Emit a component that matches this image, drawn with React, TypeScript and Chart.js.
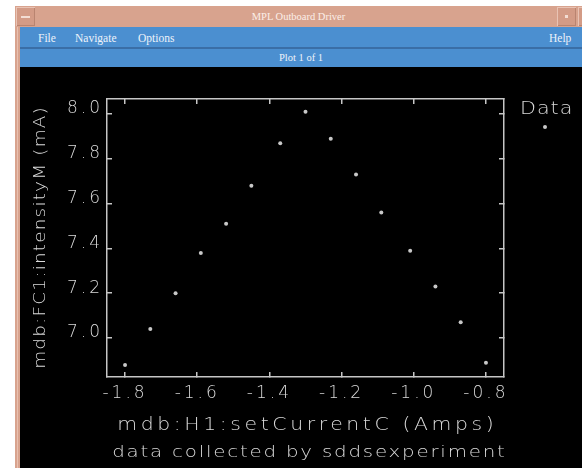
import { useEffect, useRef } from 'react';
import { Chart, registerables } from 'chart.js';

Chart.register(...registerables);

// Scan of H1 corrector current against FC1 beam intensity
const currentAmps = [-1.8, -1.73, -1.66, -1.59, -1.52, -1.45, -1.37, -1.3, -1.23, -1.16, -1.09, -1.01, -0.94, -0.87, -0.8];
const intensityMA = [6.88, 7.04, 7.2, 7.38, 7.51, 7.68, 7.87, 8.01, 7.89, 7.73, 7.56, 7.39, 7.23, 7.07, 6.89];

const xLimits = [-1.85, -0.75];
const yLimits = [6.826, 8.067];
const xStep = 0.2;
const yStep = 0.2;

const seriesName = 'Data';
const xTitle = 'mdb:H1:setCurrentC (Amps)';
const yTitle = 'mdb:FC1:intensityM (mA)';
const footnote = 'data collected by sddsexperiment';
const windowTitle = 'MPL Outboard Driver';
const menuLeft = ['File', 'Navigate', 'Options'];
const menuRight = 'Help';
const plotCaption = 'Plot 1 of 1';

const FG = '#dadada';
const LINE = '#c6c6c6';
const POINT = '#c8c8c8';
const FONT = '"DejaVu Sans", sans-serif';

const CANVAS_W = 562;
const CANVAS_H = 401;

// Stroke-font look: wide glyphs (horizontal stretch) with open letter spacing
function spacedText(
  ctx: CanvasRenderingContext2D,
  text: string,
  x: number,
  y: number,
  size: number,
  spacing: number,
  stretch: number,
  align: CanvasTextAlign = 'center'
) {
  ctx.save();
  ctx.font = `200 ${size}px ${FONT}`;
  (ctx as any).letterSpacing = `${spacing / stretch}px`;
  ctx.textAlign = align;
  ctx.textBaseline = 'alphabetic';
  const shift = align === 'center' ? spacing / 2 : 0;
  ctx.translate(x + shift, y);
  ctx.scale(stretch, 1);
  ctx.fillText(text, 0, 0);
  ctx.restore();
}

const captions = {
  id: 'captions',
  beforeLayout(chart: Chart) {
    (chart.ctx as any).letterSpacing = '3px';
  },
  beforeDraw(chart: Chart) {
    (chart.ctx as any).letterSpacing = '3px';
  },
  afterDraw(chart: Chart) {
    const { ctx, chartArea: a } = chart;
    const cx = (a.left + a.right) / 2;
    ctx.save();
    ctx.fillStyle = FG;
    spacedText(ctx, xTitle, cx, a.bottom + 53, 17, 3.6, 1.2);
    spacedText(ctx, footnote, cx + 3, a.bottom + 80, 16.5, 1.8, 1.2);

    ctx.save();
    ctx.translate(25, (a.top + a.bottom) / 2);
    ctx.rotate(-Math.PI / 2);
    spacedText(ctx, yTitle, 0, 0, 16, 1.2, 1.15);
    ctx.restore();

    // legend: name with its marker underneath
    spacedText(ctx, seriesName, a.right + 16, a.top + 15, 18, 1, 1.15, 'left');
    const ds = chart.data.datasets[0] as any;
    ctx.fillStyle = ds.pointBackgroundColor;
    ctx.beginPath();
    ctx.arc(a.right + 41, a.top + 28, ds.pointRadius, 0, Math.PI * 2);
    ctx.fill();
    ctx.restore();
  },
};

const grid = {
  drawOnChartArea: false,
  drawTicks: true,
  tickLength: -5,
  color: LINE,
  lineWidth: 1.5,
};
const border = { display: true, color: LINE, width: 1.5 };
const tickFont = { family: FONT, size: 17, weight: '200' as any };

function PlotCanvas() {
  const ref = useRef<HTMLCanvasElement | null>(null);

  useEffect(() => {
    if (!ref.current) return;
    const chart = new Chart(ref.current, {
      type: 'scatter',
      data: {
        datasets: [
          {
            label: seriesName,
            data: currentAmps.map((x, i) => ({ x, y: intensityMA[i] })),
            pointRadius: 2,
            pointBackgroundColor: POINT,
            pointBorderWidth: 0,
            showLine: false,
          },
        ],
      },
      options: {
        animation: false,
        responsive: false,
        devicePixelRatio: 1,
        layout: { padding: 0 },
        plugins: {
          legend: { display: false },
          tooltip: { enabled: false },
          title: { display: false },
        },
        scales: {
          x: {
            type: 'linear',
            position: 'bottom',
            min: xLimits[0],
            max: xLimits[1],
            afterFit: (s: any) => {
              s.height = 91;
            },
            ticks: {
              stepSize: xStep,
              includeBounds: false,
              autoSkip: false,
              maxRotation: 0,
              minRotation: 0,
              padding: 11,
              color: FG,
              font: tickFont,
              callback: (v: any) => Number(v).toFixed(1),
            },
            grid,
            border,
          },
          x2: {
            type: 'linear',
            position: 'top',
            min: xLimits[0],
            max: xLimits[1],
            afterFit: (s: any) => {
              s.height = 32;
            },
            ticks: { display: false, stepSize: xStep, includeBounds: false },
            grid,
            border,
          },
          y: {
            type: 'linear',
            position: 'left',
            min: yLimits[0],
            max: yLimits[1],
            afterFit: (s: any) => {
              s.width = 87;
            },
            ticks: {
              stepSize: yStep,
              includeBounds: false,
              padding: 9,
              labelOffset: -5,
              color: FG,
              font: tickFont,
              callback: (v: any) => Number(v).toFixed(1),
            },
            grid,
            border,
          },
          y2: {
            type: 'linear',
            position: 'right',
            min: yLimits[0],
            max: yLimits[1],
            afterFit: (s: any) => {
              s.width = 78;
            },
            ticks: { display: false, stepSize: yStep, includeBounds: false },
            grid,
            border,
          },
        },
      },
      plugins: [captions],
    });
    return () => chart.destroy();
  }, []);

  return <canvas ref={ref} width={CANVAS_W} height={CANVAS_H} style={{ display: 'block' }} />;
}

const serif = '"Liberation Serif", "DejaVu Serif", serif';

export default function App() {
  const abs = (s: React.CSSProperties): React.CSSProperties => ({ position: 'absolute', ...s });
  const button = { background: '#d39b86', boxShadow: 'inset 1px 1px 0 #e9c3b4, inset -1px -1px 0 #b98470' };
  // font shorthand first, so the explicit line height is not reset by it
  const label = (size: number, lh: number, color: string): React.CSSProperties => ({
    font: `${size}px ${serif}`,
    lineHeight: `${lh}px`,
    color,
    whiteSpace: 'nowrap',
  });
  return (
    <div style={{ position: 'fixed', left: 0, top: 0, width: 582, height: 468, background: '#ffffff', overflow: 'hidden' }}>
      {/* window frame */}
      <div style={abs({ left: 15, top: 6, width: 567, height: 462, background: '#d8a38e' })} />
      <div style={abs({ left: 17, top: 27, width: 1, height: 441, background: '#e8c0b0' })} />

      {/* title bar */}
      <div style={abs({ left: 16, top: 7, width: 19, height: 19, ...button })} />
      <div style={abs({ left: 21, top: 16, width: 9, height: 2, background: '#f3ddd3' })} />
      <div style={abs({ left: 15, top: 6, width: 567, height: 22, textAlign: 'center', ...label(10.5, 22, '#fbefe9') })}>
        {windowTitle}
      </div>
      <div style={abs({ left: 557, top: 7, width: 19, height: 19, ...button })} />
      <div style={abs({ left: 565, top: 15, width: 3, height: 3, background: '#f3ddd3' })} />
      <div style={abs({ left: 578, top: 7, width: 10, height: 19, ...button })} />

      {/* menu bar */}
      <div style={abs({ left: 20, top: 27, width: 562, height: 20, background: '#4b8fd0' })} />
      {menuLeft.map((m, i) => (
        <div key={m} style={abs({ left: [38, 75, 138][i], top: 28, height: 20, ...label(11.5, 20, '#eef3fa') })}>
          {m}
        </div>
      ))}
      <div style={abs({ left: 549, top: 28, height: 20, ...label(11.5, 20, '#eef3fa') })}>{menuRight}</div>
      <div style={abs({ left: 20, top: 47, width: 562, height: 2, background: '#3a6ea6' })} />

      {/* plot selector bar */}
      <div style={abs({ left: 20, top: 49, width: 562, height: 18, background: '#4b8fd0' })} />
      <div style={abs({ left: 20, top: 49, width: 562, height: 18, textAlign: 'center', ...label(10.5, 18, '#eef3fa') })}>
        {plotCaption}
      </div>

      {/* plot area */}
      <div style={abs({ left: 20, top: 67, width: CANVAS_W, height: CANVAS_H, background: '#000000' })}>
        <PlotCanvas />
      </div>
    </div>
  );
}
